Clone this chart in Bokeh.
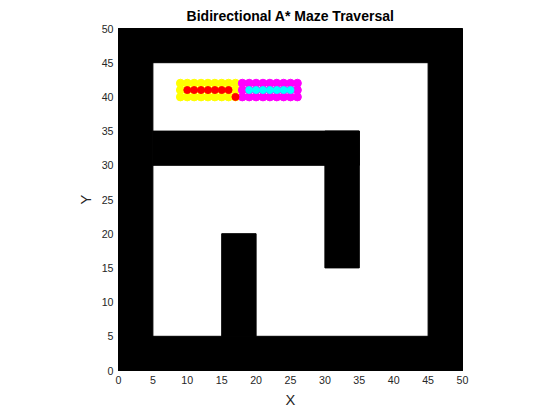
from bokeh.plotting import figure
from bokeh.embed import file_html
from bokeh.resources import INLINE
from bokeh.models import Range1d, FixedTicker

wall_x0 = [0, 45, 0, 0, 5, 30, 15]
wall_x1 = [5, 50, 50, 50, 35, 35, 20]
wall_y0 = [0, 0, 0, 45, 30, 15, 5]
wall_y1 = [50, 50, 5, 50, 35, 35, 20]

fwd_x = [x for y in (40, 41, 42) for x in range(9, 18)]
fwd_y = [y for y in (40, 41, 42) for x in range(9, 18)]
bwd_x = [x for y in (40, 41, 42) for x in range(18, 27)]
bwd_y = [y for y in (40, 41, 42) for x in range(18, 27)]
path_f_x = [10, 11, 12, 13, 14, 15, 16, 17]
path_f_y = [41, 41, 41, 41, 41, 41, 41, 40]
path_b_x = [19, 20, 21, 22, 23, 24, 25]
path_b_y = [41, 41, 41, 41, 41, 41, 41]

p = figure(frame_width=344, frame_height=342, output_backend="svg", toolbar_location=None,
           x_range=Range1d(0, 50), y_range=Range1d(0, 50),
           title="Bidirectional A* Maze Traversal",
           min_border_left=118, min_border_right=76, min_border_top=28, min_border_bottom=26)
p.title.align = "center"
p.title.text_font = "Liberation Sans"
p.title.text_font_size = "10.5pt"
p.title.text_font_style = "bold"
p.title.text_color = "black"
p.quad(left=wall_x0, right=wall_x1, bottom=wall_y0, top=wall_y1, color="black")
p.scatter(fwd_x, fwd_y, size=8, color="yellow")
p.scatter(bwd_x, bwd_y, size=8, color="magenta")
p.scatter(path_f_x, path_f_y, size=7, color="red")
p.scatter(path_b_x, path_b_y, size=7, color="cyan")
p.xgrid.visible = False
p.ygrid.visible = False
for ax in (p.xaxis, p.yaxis):
    ax.ticker = FixedTicker(ticks=list(range(0, 51, 5)))
    ax.major_tick_in = 4
    ax.major_tick_out = 0
    ax.minor_tick_line_color = None
    ax.major_label_text_font = "Liberation Sans"
    ax.major_label_text_font_size = "8pt"
    ax.major_label_text_color = "#262626"
    ax.axis_label_text_font = "Liberation Sans"
    ax.axis_label_text_font_style = "normal"
    ax.axis_label_text_font_size = "11pt"
    ax.axis_label_text_color = "#262626"
p.xaxis.axis_label = "X"
p.yaxis.axis_label = "Y"
p.outline_line_color = "black"
open("out.html", "w").write(file_html(p, INLINE))
